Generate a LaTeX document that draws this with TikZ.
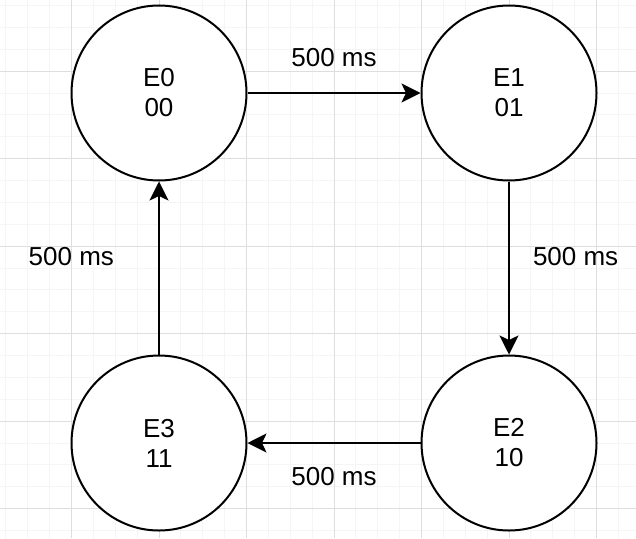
\documentclass[tikz,border=0pt]{standalone}
\usepackage{fontspec}
\setmainfont{Liberation Sans}
\usetikzlibrary{arrows.meta,positioning}
\newcommand\GridStep{21.875}
\tikzset{
  state/.style={
    shape = circle,
    draw,
    fill = white,
    line width = 2pt,
    minimum size = 175pt,
    inner sep = 0pt,
    align = center,
    font = \fontsize{26}{30}\selectfont
  },
}
\tikzset{
  flow/.style={
    line width = 2pt,
    -{Stealth[length=19pt,width=19pt,inset=4.5pt]}
  },
  delay/.style={
    font = \fontsize{26}{30}\selectfont,
    inner sep = 3pt
  },
  minorline/.style={
    line width = 1pt,
    color = black!4
  },
  majorline/.style={
    line width = 1pt,
    color = black!13
  }
}

\begin{document}
\begin{tikzpicture}[x=1pt,y=-1pt]
    \useasboundingbox (0,0) rectangle (636,538);
    \fill[white] (0,0) rectangle (636,538);

    % background grid
    \foreach \i in {0,...,31} {
        \draw[minorline] ({-16+\i*\GridStep},0) --++ (0,538);
        \draw[minorline] (0,{-16.375+\i*\GridStep}) --++ (636,0);
    }
    \foreach \i in {0,...,8} {
        \draw[majorline] ({-16+\i*87.5},0) --++ (0,538);
        \draw[majorline] (0,{-16.375+\i*87.5}) --++ (636,0);
    }

    % states
    \node[state] (e0) at (159,93) {E0\\00};
    \node[state] (e1) at (509,93) {E1\\01};
    \node[state] (e2) at (509,443) {E2\\10};
    \node[state] (e3) at (159,443) {E3\\11};

    % transitions
    \draw[flow] (e0) -- node[delay, above=22pt] {500 ms} (e1);
    \draw[flow] (e1) -- node[delay, right=20pt, yshift=11.5pt] {500 ms} (e2);
    \draw[flow] (e2) -- node[delay, below=20pt] {500 ms} (e3);
    \draw[flow] (e3) -- node[delay, left=41pt, yshift=11.5pt] {500 ms} (e0);
\end{tikzpicture}
\end{document}
